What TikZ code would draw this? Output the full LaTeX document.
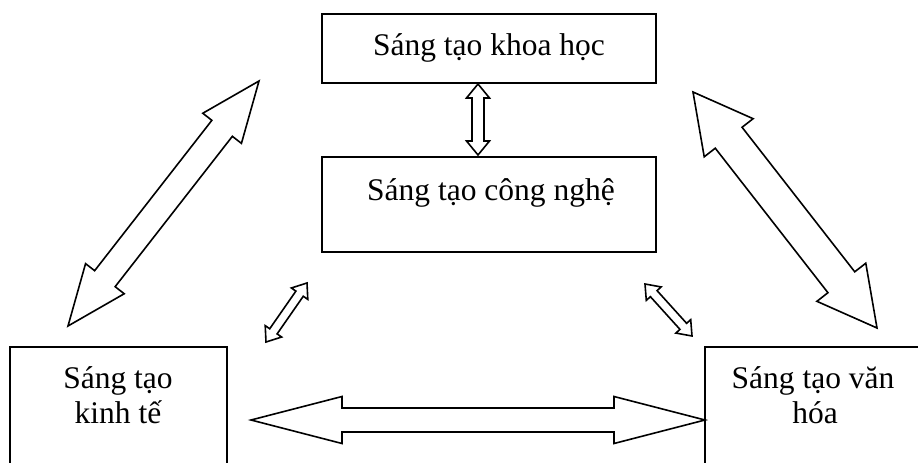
\documentclass[tikz,border=0pt]{standalone}
\usepackage{fontspec}
\setmainfont{Liberation Serif}
\usetikzlibrary{calc}
\newcommand\dblarr[5]{%
\draw[arr] (#1) -- ($(#1)!#5!(#2)!#4!90:(#2)$) -- ($(#1)!#5!(#2)!#3!90:(#2)$)
 -- ($(#2)!#5!(#1)!#3!-90:(#1)$) -- ($(#2)!#5!(#1)!#4!-90:(#1)$) -- (#2)
 -- ($(#2)!#5!(#1)!#4!90:(#1)$) -- ($(#2)!#5!(#1)!#3!90:(#1)$)
 -- ($(#1)!#5!(#2)!#3!-90:(#2)$) -- ($(#1)!#5!(#2)!#4!-90:(#2)$) -- cycle;}
\begin{document}
\begin{tikzpicture}[x=1pt,y=-1pt,
  box/.style={draw, line width=1.8pt, rectangle, inner sep=0pt},
  lbl/.style={anchor=base, inner sep=0pt, font=\fontsize{31.5}{37}\selectfont},
  arr/.style={draw, line width=1.6pt, line join=miter, fill=white}]
\useasboundingbox (0,0) rectangle (918,463);
% boxes
\node[box, minimum width=334pt, minimum height=69pt] (sci) at (489,48.5) {};
\node[box, minimum width=334pt, minimum height=95pt] (tech) at (489,204.5) {};
\node[box, minimum width=217pt, minimum height=133pt] (econ) at (118.5,413.5) {};
\node[box, minimum width=235pt, minimum height=133pt] (cult) at (822.5,413.5) {};
% labels
\node[lbl] (tsci) at (489,55) {Sáng tạo khoa học};
\node[lbl] (ttech) at (491,200) {Sáng tạo công nghệ};
\node[lbl] (tecon1) at (118,388) {Sáng tạo};
\node[lbl] (tecon2) at (118,423) {kinh tế};
\node[lbl] (tcult1) at (813,388) {Sáng tạo văn};
\node[lbl] (tcult2) at (815,423) {hóa};
% arrow end points
\coordinate (v1) at (478,84);
\coordinate (v2) at (478,155);
\coordinate (l1) at (68,326);
\coordinate (l2) at (259,81);
\coordinate (r1) at (693,92);
\coordinate (r2) at (877,328);
\coordinate (sl1) at (266,342);
\coordinate (sl2) at (307,283);
\coordinate (sr1) at (645,284);
\coordinate (sr2) at (692,336);
\coordinate (h1) at (251,420);
\coordinate (h2) at (705,420);
% arrows
\dblarr{v1}{v2}{6pt}{11.5pt}{14pt}
\dblarr{l1}{l2}{13pt}{24.5pt}{60pt}
\dblarr{r1}{r2}{17pt}{31pt}{58pt}
\dblarr{sl1}{sl2}{4.5pt}{10pt}{13pt}
\dblarr{sr1}{sr2}{4.5pt}{10pt}{13pt}
\dblarr{h1}{h2}{12pt}{23.5pt}{91pt}
\end{tikzpicture}
\end{document}
